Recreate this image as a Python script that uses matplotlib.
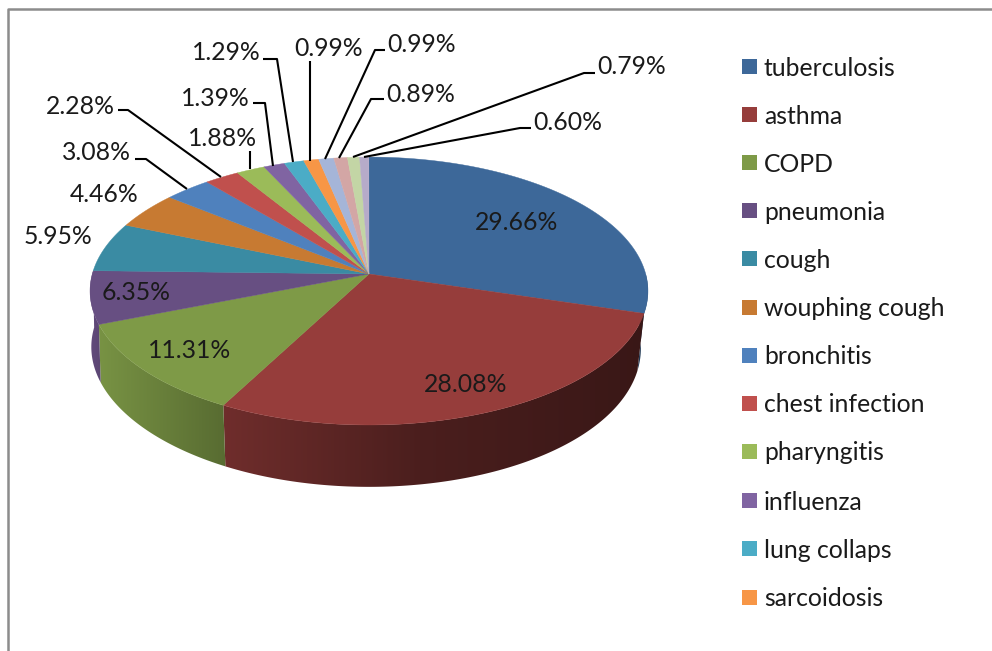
import numpy as np
import matplotlib
matplotlib.use('Agg')
import matplotlib.pyplot as plt
from matplotlib.patches import Polygon, Rectangle

plt.rcParams['font.family'] = ['Lato', 'DejaVu Sans']

categories = ['tuberculosis', 'asthma', 'COPD', 'pneumonia', 'cough', 'wouphing cough',
              'bronchitis', 'chest infection', 'pharyngitis', 'influenza', 'lung collaps',
              'sarcoidosis', 'other 1', 'other 2', 'other 3', 'other 4']
values = [29.66, 28.08, 11.31, 6.35, 5.95, 4.46, 3.08, 2.28, 1.88, 1.39, 1.29, 0.99, 0.99, 0.89, 0.79, 0.60]
colors = ['#3D6899', '#963D3B', '#7E9A47', '#674F82', '#3A8BA3', '#C77A32',
          '#4F81BD', '#C0504D', '#9BBB59', '#8064A2', '#4BACC6', '#F79646',
          '#A5B5D8', '#D3A6A5', '#C3D5A5', '#B6ABC9']
n_legend = 12

# label text centre and leader line for each slice, in image pixels
label_pos = [(517, 223), (466, 384), (190, 350), (136, 293), (58, 236), (104, 194),
             (96, 153), (80, 106), (222, 138), (215, 98), (226, 53), (329, 48),
             (422, 45), (421, 94), (632, 67), (568, 123)]
leaders = {6: [(135, 159), (146, 159), (187, 189)],
           7: [(118, 110), (128, 110), (221, 177)],
           8: [(250, 151), (250, 169)],
           9: [(253, 103), (265, 103), (273, 166)],
           10: [(263, 59), (277, 59), (293, 162)],
           11: [(310, 61), (310, 161)],
           12: [(385, 50), (375, 50), (325, 159)],
           13: [(384, 99), (371, 99), (339, 158)],
           14: [(595, 73), (584, 73), (353, 157)],
           15: [(531, 128), (520, 128), (364, 157)]}

cx, cy = 369, 274
rx, ry, persp = 276.7, 131.8, 0.127


def rim(theta):
    # circle in the plane of the pie, seen in perspective
    den = 1 + persp * np.sin(theta)
    return cx + rx * np.cos(theta) / den, cy - ry * np.sin(theta) / den


def lower_rim(theta):
    # bottom edge of the wall, a bit narrower and further down at the front
    den = 1 + persp * np.sin(theta)
    c = np.cos(theta)
    return (cx - 3 * c ** 4 + 0.985 * rx * c / den,
            cy + 56 / den - 0.985 * ry * np.sin(theta) / den)


fig = plt.figure(figsize=(9.92, 6.51), dpi=100)
ax = fig.add_axes([0, 0, 1, 1])
ax.axis('off')

# grey frame, only left and top
ax.plot([7.5, 7.5, 992], [651, 8.5, 8.5], color='#8C8C8C', lw=1.8, zorder=1)

edges = np.radians(90 - 3.6 * np.concatenate([[0], np.cumsum(values)]))

# side wall, dark shading from left to right
for i in range(len(values)):
    t = np.linspace(edges[i], edges[i + 1], 120)
    t = t[np.sin(t) < 0.02]
    if len(t) < 2:
        continue
    x1, y1 = rim(t)
    x2, y2 = lower_rim(t)
    poly = Polygon(np.r_[np.c_[x1, y1], np.c_[x2, y2][::-1]], closed=True, fc='none', ec='none')
    ax.add_patch(poly)
    base = np.array(matplotlib.colors.to_rgb(colors[i]))
    xs = np.arange(85, 655)
    shade = np.interp(xs, [225, 420, 645], [0.74, 0.50, 0.38])
    if i == 0:
        shade = np.full(len(xs), 0.55)
    if i == 2:
        shade = np.interp(xs, [100, 225], [0.95, 0.70])
    if i == 3:
        shade = np.interp(xs, [90, 105], [0.95, 0.85])
    img = (base[None, None, :] * shade[None, :, None]).clip(0, 1)
    im = ax.imshow(img, extent=(85, 655, 520, 260), aspect='auto', zorder=2,
                   interpolation='bilinear')
    im.set_clip_path(poly)
ax.set_xlim(0, 992)
ax.set_ylim(651, 0)

# top of the pie
for i in range(len(values)):
    t = np.linspace(edges[i], edges[i + 1], 120)
    x, y = rim(t)
    pts = np.r_[[(cx, cy)], np.c_[x, y]]
    ax.add_patch(Polygon(pts, closed=True, fc=colors[i], ec=colors[i], lw=0.3, zorder=3))

for i in range(len(values)):
    ax.text(label_pos[i][0], label_pos[i][1], '%.2f%%' % values[i], ha='center', va='center',
            fontsize=17.8, color='#1A1A1A', zorder=5)
for i, pts in leaders.items():
    px, py = zip(*pts)
    ax.plot(px, py, color='black', lw=1.5, zorder=4, solid_capstyle='butt')

# legend, only the first twelve entries fit
legend_y = [67, 115, 163, 211, 259, 308, 356, 404, 452, 501, 549, 598]
for i in range(n_legend):
    ax.add_patch(Rectangle((742, legend_y[i] - 8), 15, 15, fc=colors[i], ec='none', zorder=3))
    ax.text(764, legend_y[i] + 1, categories[i], ha='left', va='center', fontsize=17.8,
            color='#1A1A1A', zorder=5)

fig.savefig('out.png', dpi=100)
